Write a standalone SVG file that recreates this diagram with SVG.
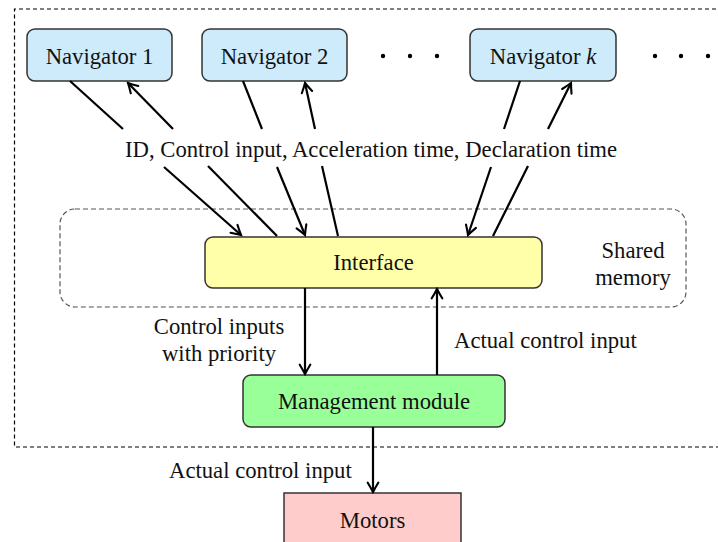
<svg xmlns="http://www.w3.org/2000/svg" width="718" height="542" viewBox="0 0 718 542">
<style>
text{font-family:"Liberation Serif","Times New Roman",serif;font-size:22.7px;fill:#111}
.mid{text-anchor:middle}
.node{stroke:#333;stroke-width:1.5}
.nav{fill:#CDEBFA}
.ln{stroke:#000;stroke-width:2.2;fill:none}
.arr{marker-end:url(#ah)}
</style>
<defs>
<marker id="ah" markerUnits="userSpaceOnUse" markerWidth="14" markerHeight="14" viewBox="-10 -6 12 12" refX="0" refY="0" orient="auto">
<path d="M-8,-4.5 Q-3,-1.5 0,0 Q-3,1.5 -8,4.5" fill="none" stroke="#000" stroke-width="1.8" stroke-linecap="round"/>
</marker>
</defs>
<rect width="718" height="542" fill="#fff"/>
<g id="outer-frame">
<path d="M730,9 H14.5 V447 H730" fill="none" stroke="#000" stroke-width="1.2" stroke-dasharray="4,3"/>
</g>
<g id="shared-memory">
<rect x="60" y="209" width="626" height="98" rx="15" fill="none" stroke="#555" stroke-width="1.2" stroke-dasharray="5,3"/>
<text class="mid" x="633" y="258">Shared</text>
<text class="mid" x="633" y="285">memory</text>
</g>
<g id="nav1">
<rect class="node nav" x="27" y="29" width="145" height="52" rx="8"/>
<text class="mid" x="99.5" y="64">Navigator 1</text>
</g>
<g id="nav2">
<rect class="node nav" x="202" y="29" width="145" height="52" rx="8"/>
<text class="mid" x="274.5" y="64">Navigator 2</text>
</g>
<g id="navk">
<rect class="node nav" x="470" y="29" width="146" height="52" rx="8"/>
<text class="mid" x="543" y="64">Navigator <tspan font-style="italic">k</tspan></text>
</g>
<g id="dots" fill="#000">
<circle cx="383" cy="56" r="2.2"/><circle cx="410" cy="56" r="2.2"/><circle cx="437" cy="56" r="2.2"/>
<circle cx="655" cy="56" r="2.2"/><circle cx="681" cy="56" r="2.2"/><circle cx="708" cy="56" r="2.2"/>
</g>
<g id="interface">
<rect class="node" x="205" y="237" width="337" height="51" rx="8" fill="#FFFFAA"/>
<text class="mid" x="373.5" y="270">Interface</text>
</g>
<g id="management">
<rect class="node" x="243" y="375" width="262" height="52" rx="8" fill="#99FF99"/>
<text class="mid" x="374" y="409">Management module</text>
</g>
<g id="motors">
<rect class="node" x="284" y="493" width="177" height="60" fill="#FFCCCC"/>
<text class="mid" x="372.5" y="528">Motors</text>
</g>
<g id="connectors">
<line class="ln" x1="70" y1="81" x2="123" y2="129"/>
<line class="ln arr" x1="164" y1="167" x2="241" y2="235"/>
<line class="ln arr" x1="173" y1="129" x2="128" y2="83"/>
<line class="ln" x1="277" y1="236" x2="208" y2="166"/>
<line class="ln" x1="243" y1="81" x2="262" y2="129"/>
<line class="ln arr" x1="277" y1="167" x2="305" y2="235"/>
<line class="ln arr" x1="315" y1="129" x2="305" y2="83"/>
<line class="ln" x1="338" y1="236" x2="322" y2="166"/>
<line class="ln" x1="520" y1="81" x2="504" y2="129"/>
<line class="ln arr" x1="491" y1="167" x2="468" y2="235"/>
<line class="ln arr" x1="548" y1="129" x2="571" y2="83"/>
<line class="ln" x1="493" y1="236" x2="528" y2="166"/>
<line class="ln arr" x1="305" y1="288" x2="305" y2="374"/>
<line class="ln arr" x1="437" y1="375" x2="437" y2="289"/>
<line class="ln arr" x1="373" y1="427" x2="373" y2="492"/>
</g>
<g id="labels">
<text class="mid" x="371" y="157">ID, Control input, Acceleration time, Declaration time</text>
<text class="mid" x="219" y="334">Control inputs</text>
<text class="mid" x="219" y="361">with priority</text>
<text x="454" y="348">Actual control input</text>
<text x="169" y="478">Actual control input</text>
</g>
</svg>
